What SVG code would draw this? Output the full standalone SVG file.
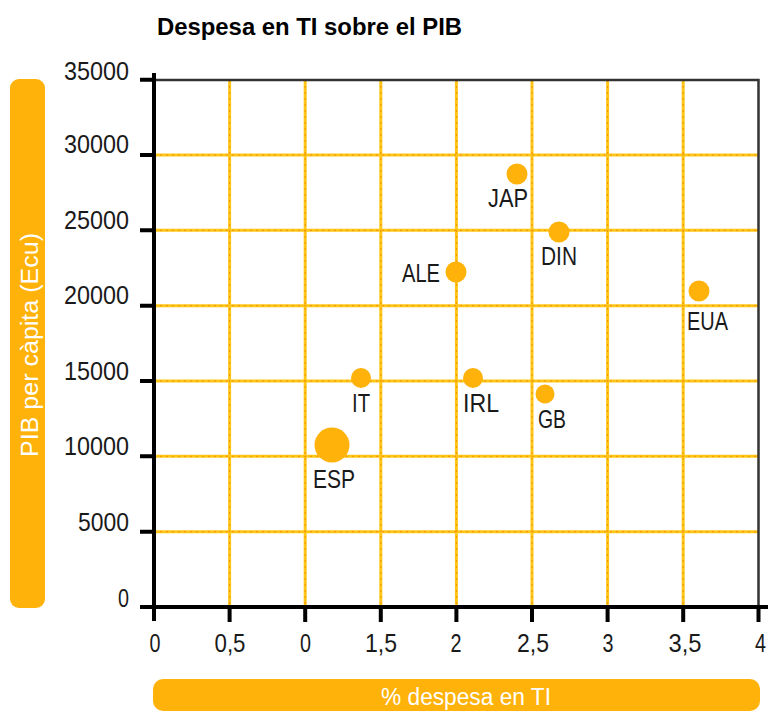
<svg xmlns="http://www.w3.org/2000/svg" width="768" height="713" viewBox="0 0 768 713">
  <style>
    .title { font-family: "Liberation Sans", Arial, sans-serif; font-weight: bold; font-size: 23.5px; fill: #000; }
    .num { font-family: "Liberation Sans", Arial, sans-serif; font-size: 25px; fill: #1a1a1a; }
    .lbl { font-family: "Liberation Sans", Arial, sans-serif; font-size: 25px; fill: #1a1a1a; }
    .bartxt { font-family: "Liberation Sans", Arial, sans-serif; font-size: 23px; fill: #ffffff; }
    .bar { fill: #FFB20A; }
    .grid { stroke: #FFC61A; stroke-width: 3; fill: none; }
    .griddot { stroke: #F39200; stroke-width: 1; stroke-dasharray: 2 4; fill: none; }
    .axis { stroke: #000; stroke-width: 4; fill: none; }
    .frame { stroke: #333; stroke-width: 2.5; fill: none; }
    .pt { fill: #FFB20A; }
  </style>

  <!-- Title -->
  <text class="title" x="157" y="35" textLength="305" lengthAdjust="spacingAndGlyphs">Despesa en TI sobre el PIB</text>

  <!-- Axis label bars -->
  <g id="y-axis-label">
    <rect class="bar" x="10" y="79" width="35" height="529" rx="9"/>
    <text class="bartxt" transform="translate(38,345) rotate(-90)" text-anchor="middle" font-size="24" textLength="224" lengthAdjust="spacingAndGlyphs">PIB per càpita (Ecu)</text>
  </g>
  <g id="x-axis-label">
    <rect class="bar" x="153" y="679" width="607" height="32" rx="10"/>
    <text class="bartxt" x="466" y="705" text-anchor="middle" textLength="170" lengthAdjust="spacingAndGlyphs">% despesa en TI</text>
  </g>

  <!-- Grid -->
  <g id="grid">
    <path class="grid" d="M229.6 80V607M305.2 80V607M380.8 80V607M456.4 80V607M532 80V607M607.6 80V607M683.2 80V607"/>
    <path class="grid" d="M154 155H758.5M154 230.3H758.5M154 305.7H758.5M154 381H758.5M154 456.3H758.5M154 531.7H758.5"/>
    <path class="griddot" d="M229.6 80V607M305.2 80V607M380.8 80V607M456.4 80V607M532 80V607M607.6 80V607M683.2 80V607"/>
    <path class="griddot" d="M154 155H758.5M154 230.3H758.5M154 305.7H758.5M154 381H758.5M154 456.3H758.5M154 531.7H758.5"/>
  </g>

  <!-- Axes and frame -->
  <g id="axes">
    <path class="frame" d="M154 80H758.5V607"/>
    <path class="axis" d="M154 73V621M140 607H768"/>
    <path class="axis" d="M140 79.7H154M140 155H154M140 230.3H154M140 305.7H154M140 381H154M140 456.3H154M140 531.7H154"/>
    <path class="axis" d="M229.6 607V622M305.2 607V622M380.8 607V622M456.4 607V622M532 607V622M607.6 607V622M683.2 607V622M758.5 607V622"/>
  </g>

  <!-- Y tick labels -->
  <g id="y-ticks">
    <text class="num" x="129" y="80" text-anchor="end" textLength="65" lengthAdjust="spacingAndGlyphs">35000</text>
    <text class="num" x="129" y="153" text-anchor="end" textLength="65" lengthAdjust="spacingAndGlyphs">30000</text>
    <text class="num" x="129" y="229" text-anchor="end" textLength="65" lengthAdjust="spacingAndGlyphs">25000</text>
    <text class="num" x="129" y="304" text-anchor="end" textLength="65" lengthAdjust="spacingAndGlyphs">20000</text>
    <text class="num" x="129" y="380" text-anchor="end" textLength="65" lengthAdjust="spacingAndGlyphs">15000</text>
    <text class="num" x="129" y="455" text-anchor="end" textLength="65" lengthAdjust="spacingAndGlyphs">10000</text>
    <text class="num" x="129" y="531" text-anchor="end" textLength="51" lengthAdjust="spacingAndGlyphs">5000</text>
    <text class="num" x="129" y="607" text-anchor="end" textLength="11" lengthAdjust="spacingAndGlyphs">0</text>
  </g>

  <!-- X tick labels -->
  <g id="x-ticks">
    <text class="num" x="155" y="652" text-anchor="middle" textLength="11" lengthAdjust="spacingAndGlyphs">0</text>
    <text class="num" x="230" y="652" text-anchor="middle" textLength="31" lengthAdjust="spacingAndGlyphs">0,5</text>
    <text class="num" x="305.5" y="652" text-anchor="middle" textLength="11" lengthAdjust="spacingAndGlyphs">0</text>
    <text class="num" x="381" y="652" text-anchor="middle" textLength="32" lengthAdjust="spacingAndGlyphs">1,5</text>
    <text class="num" x="456" y="652" text-anchor="middle" textLength="11" lengthAdjust="spacingAndGlyphs">2</text>
    <text class="num" x="533" y="652" text-anchor="middle" textLength="32" lengthAdjust="spacingAndGlyphs">2,5</text>
    <text class="num" x="608" y="652" text-anchor="middle" textLength="11" lengthAdjust="spacingAndGlyphs">3</text>
    <text class="num" x="685" y="652" text-anchor="middle" textLength="33" lengthAdjust="spacingAndGlyphs">3,5</text>
    <text class="num" x="755" y="652" textLength="11" lengthAdjust="spacingAndGlyphs">4</text>
  </g>

  <!-- Data points -->
  <g id="node-JAP">
    <circle class="pt" cx="517" cy="174" r="10.5"/>
    <text class="lbl" x="488" y="207" textLength="40" lengthAdjust="spacingAndGlyphs">JAP</text>
  </g>
  <g id="node-DIN">
    <circle class="pt" cx="559" cy="232" r="10.5"/>
    <text class="lbl" x="541" y="265" textLength="36" lengthAdjust="spacingAndGlyphs">DIN</text>
  </g>
  <g id="node-ALE">
    <circle class="pt" cx="456" cy="272" r="10.5"/>
    <text class="lbl" x="402" y="282" textLength="38" lengthAdjust="spacingAndGlyphs">ALE</text>
  </g>
  <g id="node-EUA">
    <circle class="pt" cx="699" cy="291" r="10.5"/>
    <text class="lbl" x="687" y="330" textLength="41" lengthAdjust="spacingAndGlyphs">EUA</text>
  </g>
  <g id="node-IT">
    <circle class="pt" cx="361" cy="378" r="10"/>
    <text class="lbl" x="352" y="412" textLength="18" lengthAdjust="spacingAndGlyphs">IT</text>
  </g>
  <g id="node-IRL">
    <circle class="pt" cx="473" cy="378" r="10"/>
    <text class="lbl" x="463" y="412" textLength="36" lengthAdjust="spacingAndGlyphs">IRL</text>
  </g>
  <g id="node-GB">
    <circle class="pt" cx="545" cy="394" r="9.5"/>
    <text class="lbl" x="538" y="428" textLength="28" lengthAdjust="spacingAndGlyphs">GB</text>
  </g>
  <g id="node-ESP">
    <circle class="pt" cx="332" cy="445" r="17.5"/>
    <text class="lbl" x="313" y="488" textLength="42" lengthAdjust="spacingAndGlyphs">ESP</text>
  </g>

  <g id="connectors"></g>
</svg>
